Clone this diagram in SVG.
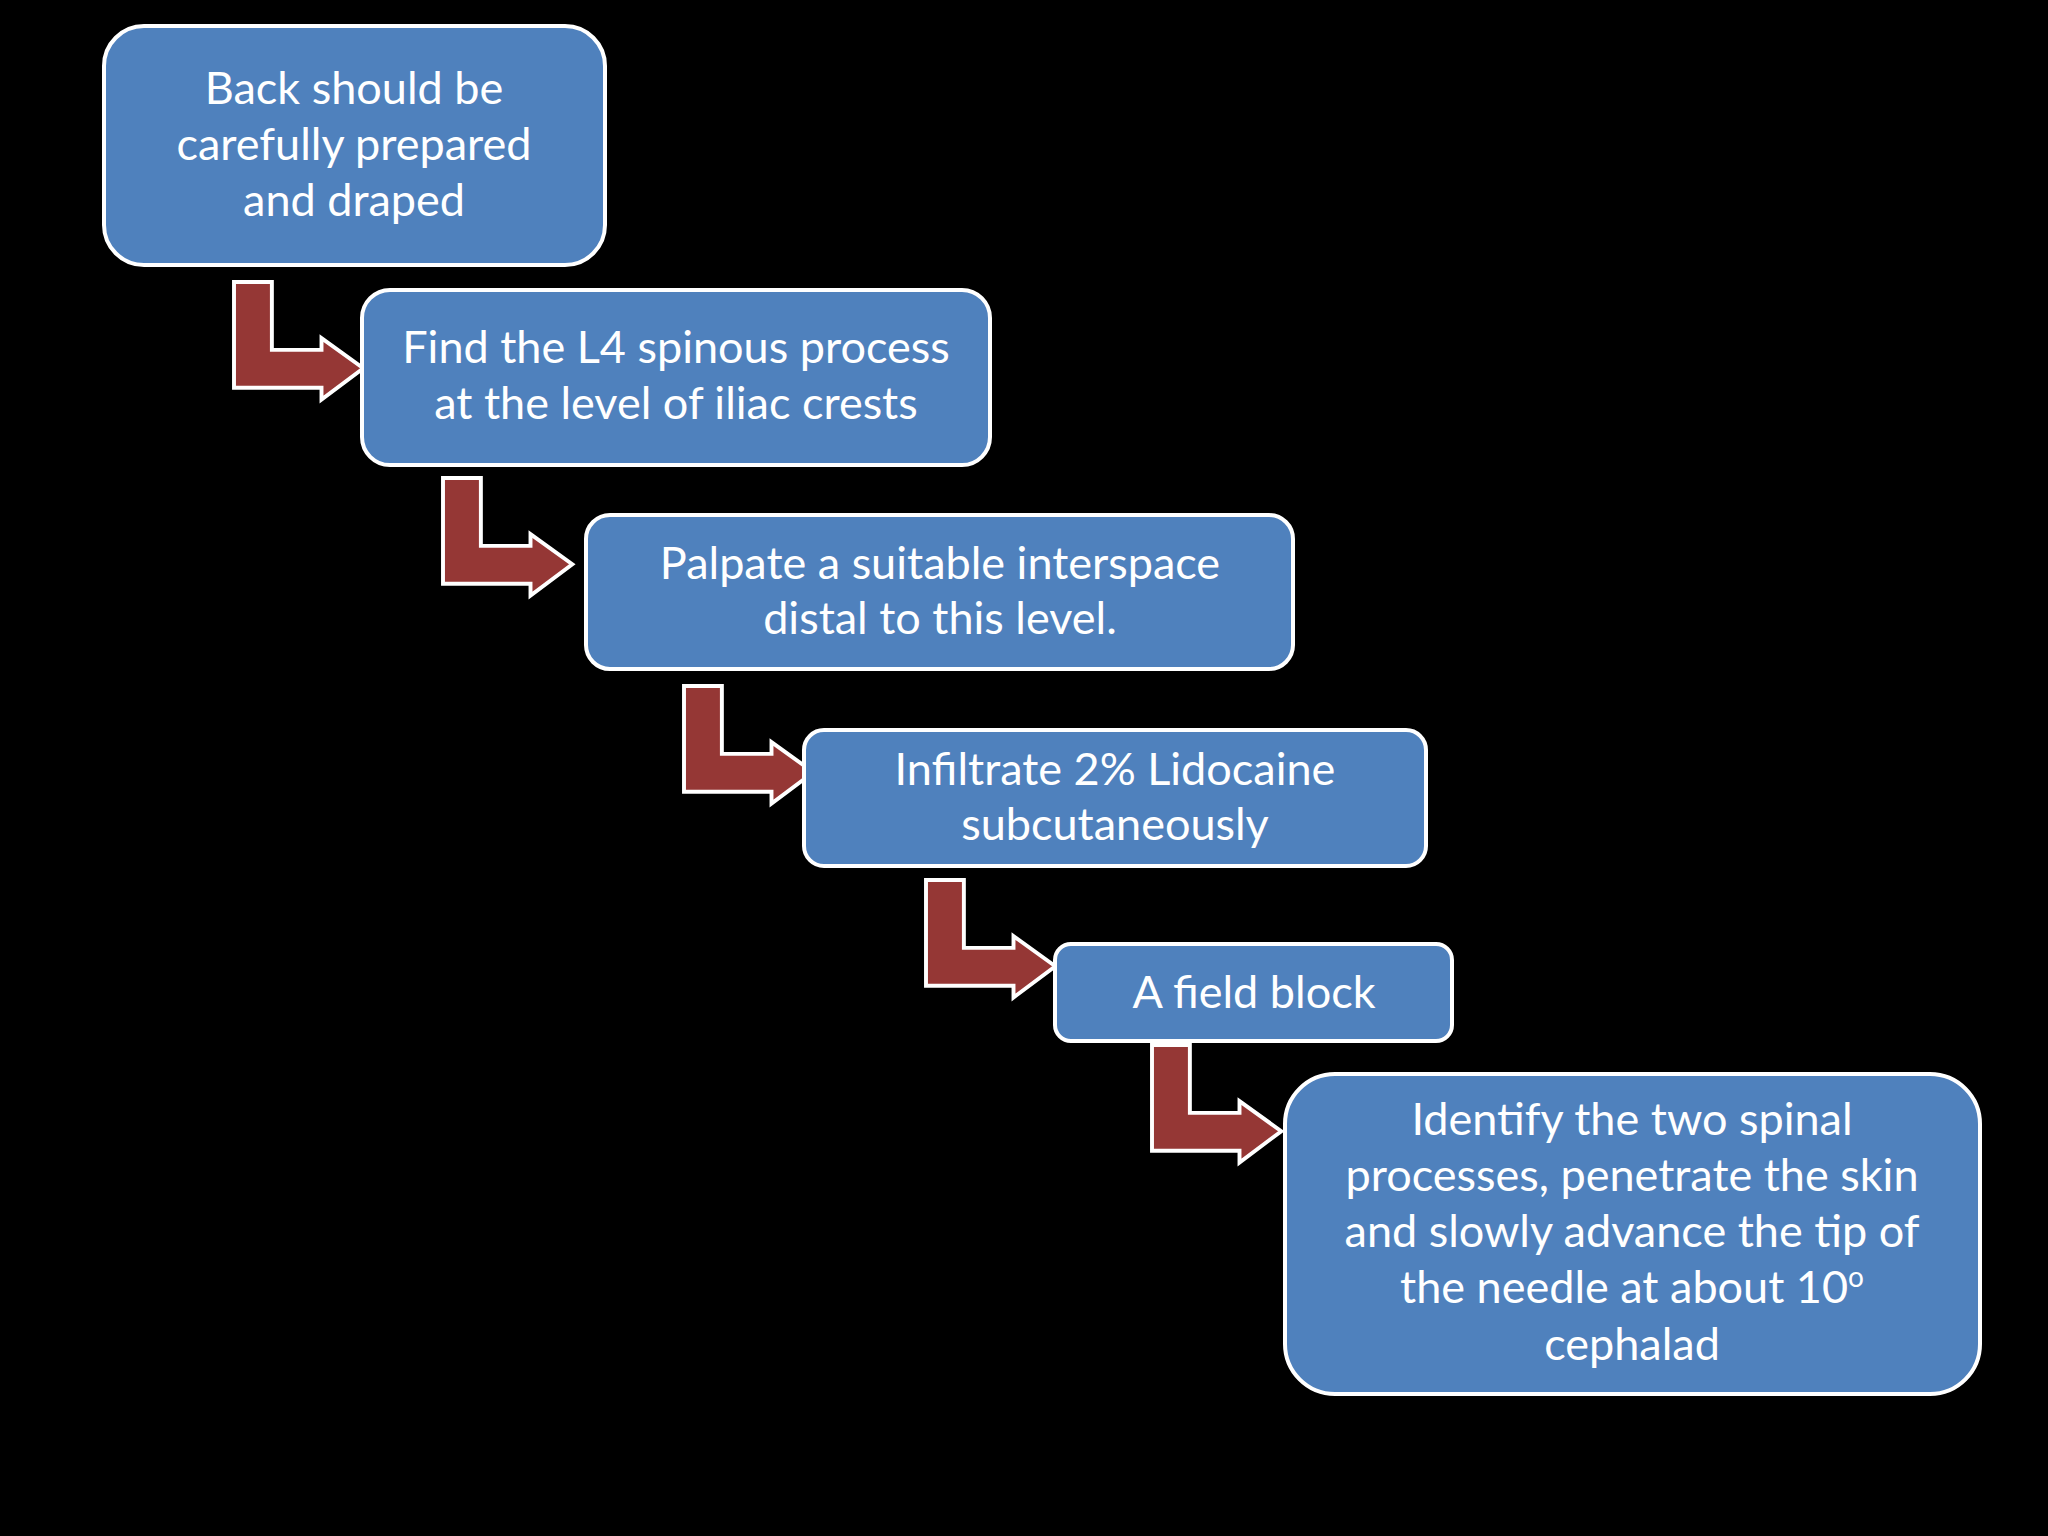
<svg xmlns="http://www.w3.org/2000/svg" width="2048" height="1536" viewBox="0 0 2048 1536">
<defs>
<style>
.b{fill:#4F81BD;stroke:#fff;stroke-width:4}
.t{font-family:Lato,"Open Sans",sans-serif;font-size:45px;fill:#fff;text-anchor:middle}
.a{fill:#953735;stroke:#fff;stroke-width:3}
</style>
<path id="ar" d="M0,0 H29 V52 H67 V43 L99,66 L67,90 V81 H0 Z"/>
</defs>
<rect width="2048" height="1536" fill="#000"/>
<g id="connectors">
<use href="#ar" class="a" transform="translate(234,282) scale(1.306)"/>
<use href="#ar" class="a" transform="translate(443,478) scale(1.306)"/>
<use href="#ar" class="a" transform="translate(684,686) scale(1.306)"/>
<use href="#ar" class="a" transform="translate(926,880) scale(1.306)"/>
<use href="#ar" class="a" transform="translate(1152,1045) scale(1.306)"/>
</g>
<g id="n1"><rect class="b" x="104" y="26" width="501" height="239" rx="40"/>
<text class="t" x="354" y="104">Back should be</text><text class="t" x="354" y="160">carefully prepared</text><text class="t" x="354" y="216">and draped</text></g>
<g id="n2"><rect class="b" x="362" y="290" width="628" height="175" rx="28"/>
<text class="t" x="676" y="363">Find the L4 spinous process</text><text class="t" x="676" y="419">at the level of iliac crests</text></g>
<g id="n3"><rect class="b" x="586" y="515" width="707" height="154" rx="24"/>
<text class="t" x="940" y="579">Palpate a suitable interspace</text><text class="t" x="940" y="634">distal to this level.</text></g>
<g id="n4"><rect class="b" x="804" y="730" width="622" height="136" rx="20"/>
<text class="t" x="1115" y="785">Infiltrate 2% Lidocaine</text><text class="t" x="1115" y="840">subcutaneously</text></g>
<g id="n5"><rect class="b" x="1055" y="944" width="397" height="97" rx="16"/>
<text class="t" x="1254" y="1008">A field block</text></g>
<g id="n6"><rect class="b" x="1285" y="1074" width="695" height="320" rx="50"/>
<text class="t" x="1632" y="1135">Identify the two spinal</text><text class="t" x="1632" y="1191">processes, penetrate the skin</text><text class="t" x="1632" y="1247">and slowly advance the tip of</text><text class="t" x="1632" y="1303">the needle at about 10<tspan font-size="28" dy="-16">o</tspan></text><text class="t" x="1632" y="1360">cephalad</text></g>
</svg>
